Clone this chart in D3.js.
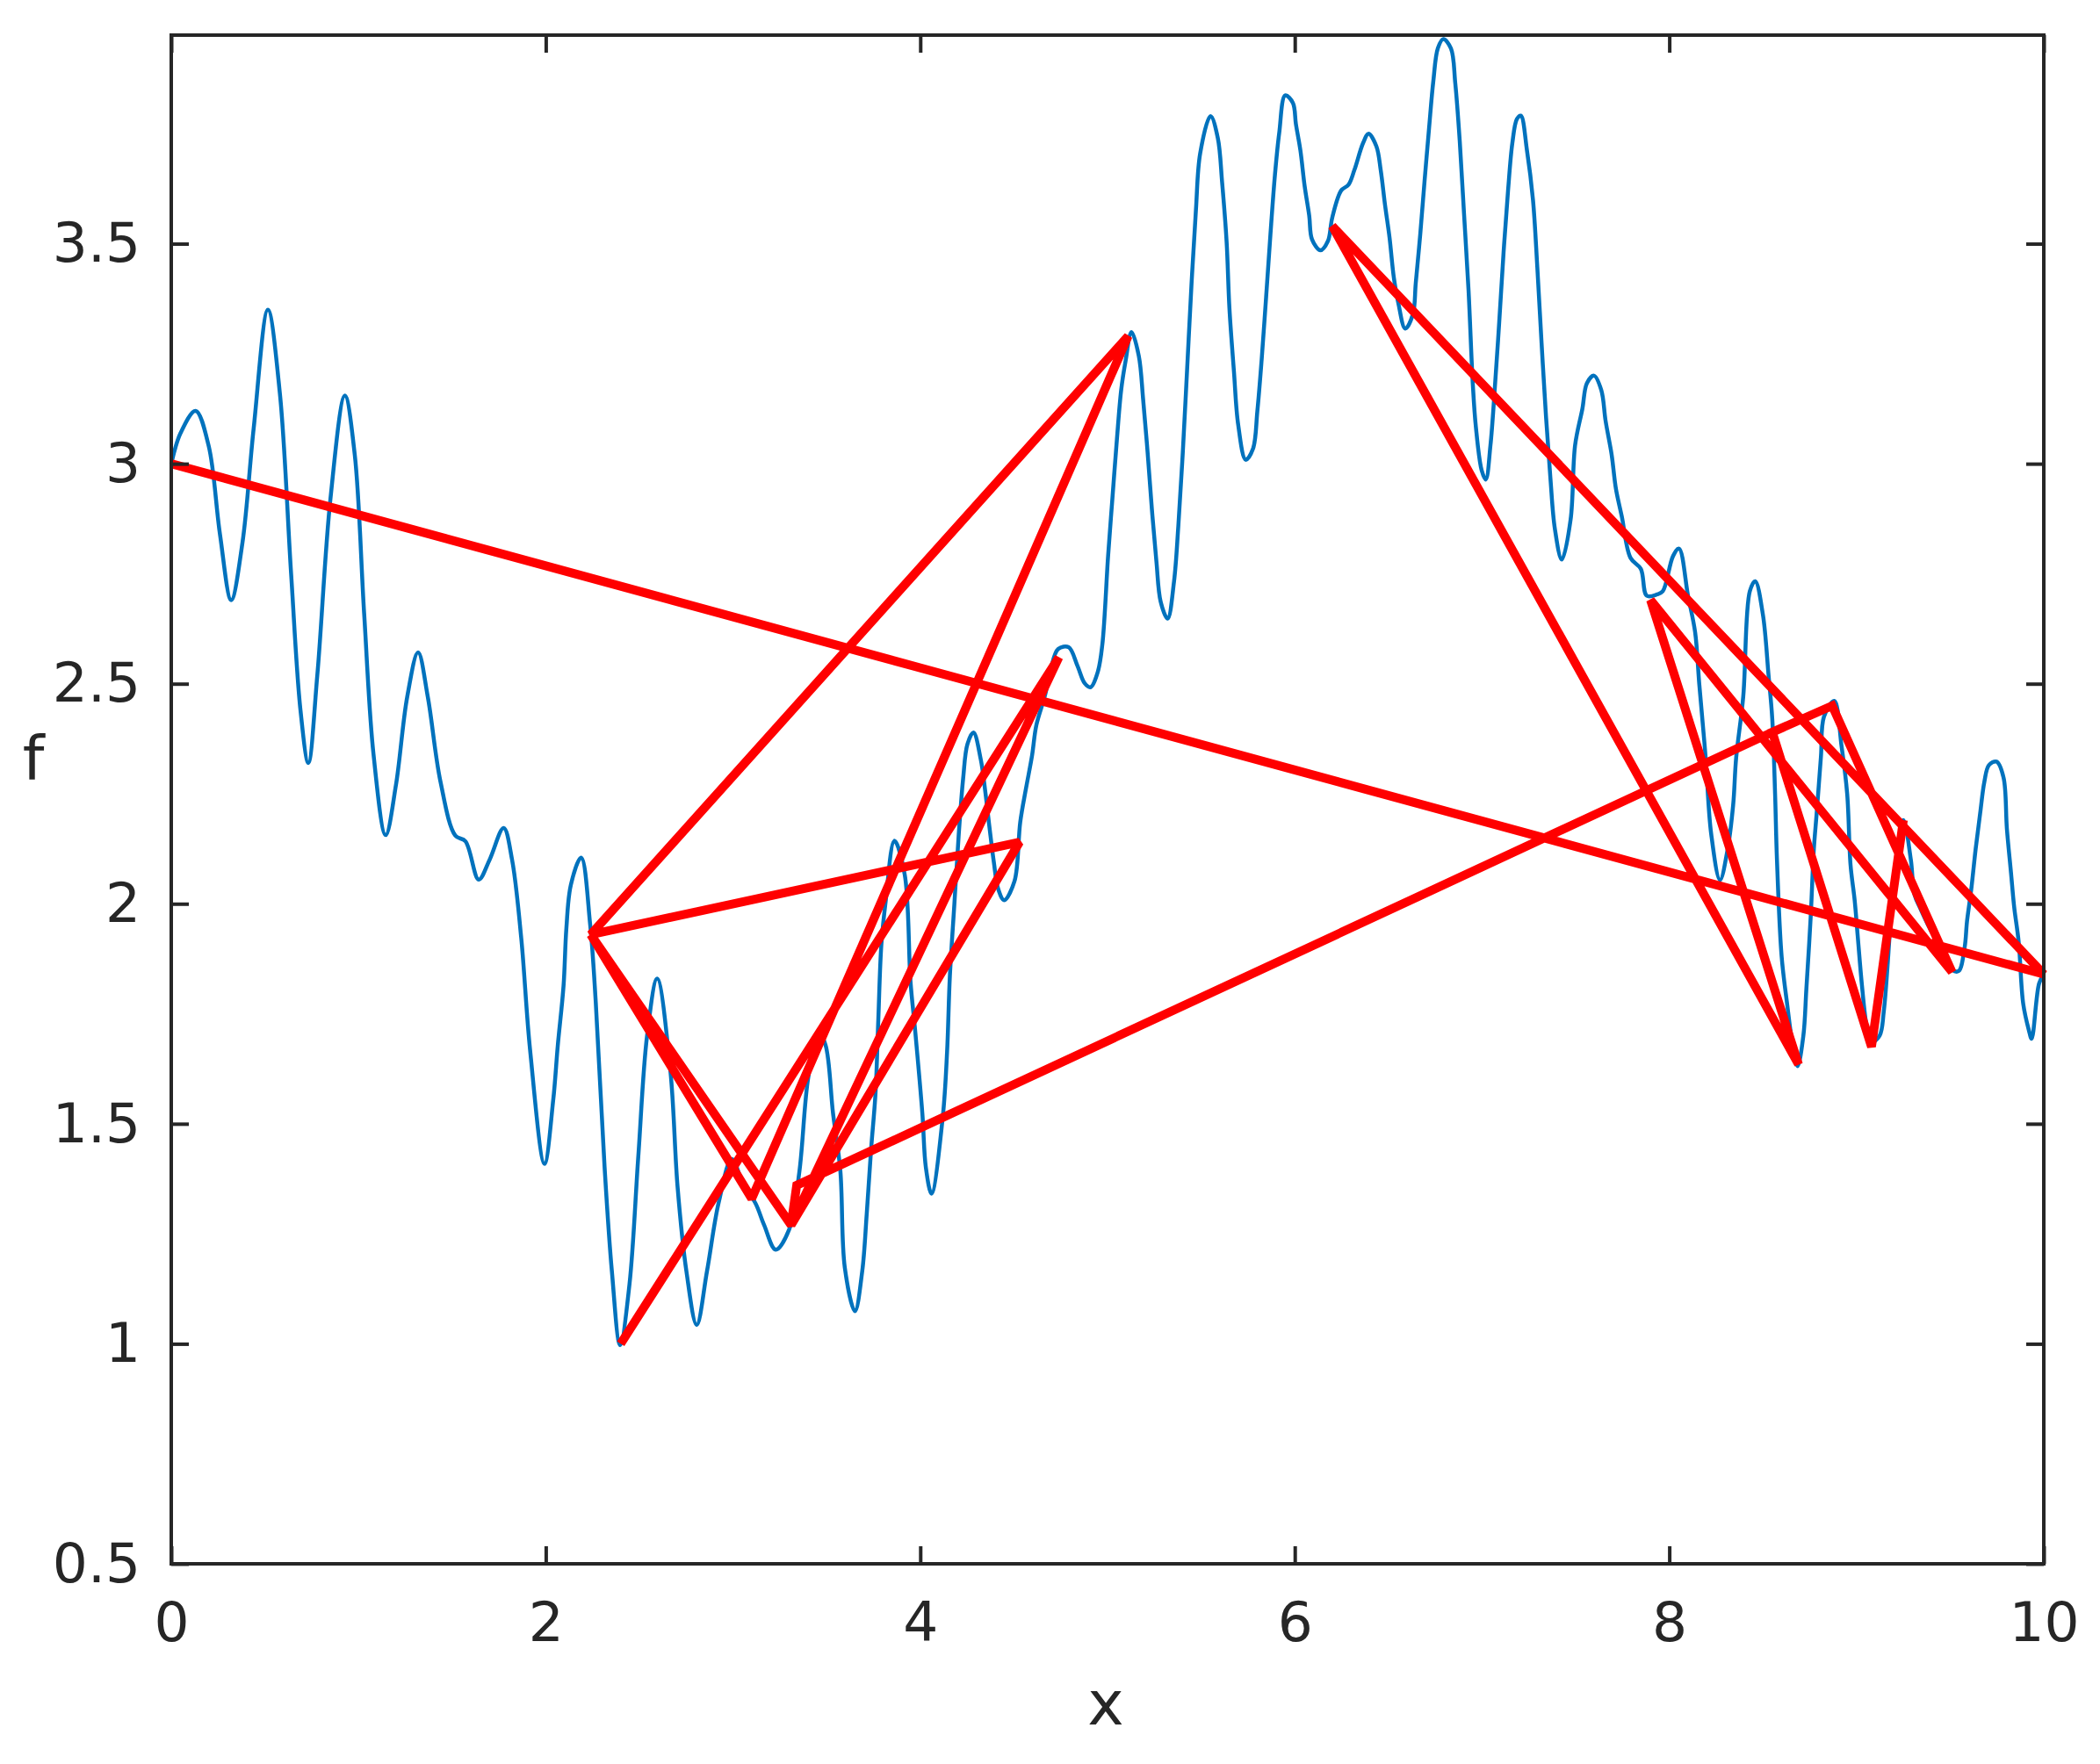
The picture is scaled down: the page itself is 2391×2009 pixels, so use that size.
<!DOCTYPE html>
<meta charset="utf-8">
<style>
    body { margin: 0; background: #fff; }
    .axis text { font-family: "DejaVu Sans", sans-serif; font-size: 63px; fill: #262626; }
    .axis line { stroke: #262626; stroke-width: 4; }
    .axis path { display: none; }
    .box { fill: none; stroke: #262626; stroke-width: 4; }
    .label { font-family: "DejaVu Sans", sans-serif; font-size: 70px; fill: #262626; }
</style>
<body>
<svg width="2391" height="2009"></svg>
</body>
<script src="https://d3js.org/d3.v7.min.js"></script>
<script>

    // blue curve f(x)
    var curveX = [0, 0.05, 0.13, 0.2, 0.26, 0.32, 0.38, 0.44, 0.516, 0.58, 0.64, 0.69, 0.732, 0.78, 0.85, 0.927, 0.98, 1.03, 1.08, 1.145,
        1.2, 1.26, 1.318, 1.37, 1.437, 1.517, 1.571, 1.642, 1.7, 1.775, 1.82, 1.869, 1.916, 1.993, 2.04, 2.064, 2.095, 2.11, 2.134, 2.189,
        2.237, 2.267, 2.314, 2.353, 2.397, 2.447, 2.494, 2.541, 2.595, 2.665, 2.704, 2.751, 2.806, 2.861, 2.924, 2.994, 3.056, 3.119, 3.166, 3.228,
        3.3, 3.354, 3.4, 3.455, 3.494, 3.534, 3.573, 3.597, 3.651, 3.69, 3.714, 3.737, 3.761, 3.776, 3.792, 3.815, 3.862, 3.917, 3.948, 3.972,
        4.011, 4.03, 4.06, 4.12, 4.143, 4.158, 4.182, 4.205, 4.229, 4.252, 4.284, 4.323, 4.346, 4.37, 4.393, 4.416, 4.448, 4.503, 4.534, 4.565,
        4.597, 4.62, 4.667, 4.698, 4.737, 4.792, 4.84, 4.878, 4.909, 4.948, 4.972, 5.003, 5.026, 5.05, 5.073, 5.097, 5.128, 5.167, 5.19, 5.214,
        5.237, 5.261, 5.284, 5.321, 5.355, 5.378, 5.402, 5.425, 5.448, 5.472, 5.495, 5.55, 5.589, 5.612, 5.636, 5.651, 5.675, 5.698, 5.738, 5.777,
        5.8, 5.823, 5.847, 5.87, 5.894, 5.917, 5.949, 5.99, 6.006, 6.03, 6.053, 6.077, 6.092, 6.137, 6.177, 6.2, 6.248, 6.287, 6.318, 6.365,
        6.394, 6.436, 6.459, 6.482, 6.506, 6.529, 6.553, 6.59, 6.631, 6.646, 6.67, 6.693, 6.717, 6.74, 6.764, 6.793, 6.834, 6.857, 6.881, 6.904,
        6.928, 6.951, 6.967, 6.998, 7.02, 7.045, 7.068, 7.092, 7.115, 7.139, 7.162, 7.186, 7.207, 7.24, 7.272, 7.295, 7.318, 7.342, 7.365, 7.389,
        7.426, 7.473, 7.497, 7.536, 7.56, 7.598, 7.637, 7.66, 7.692, 7.715, 7.746, 7.793, 7.848, 7.88, 7.935, 7.965, 8.02, 8.052, 8.1, 8.138,
        8.16, 8.193, 8.224, 8.271, 8.31, 8.341, 8.357, 8.395, 8.43, 8.459, 8.5, 8.53, 8.55, 8.565, 8.575, 8.6, 8.63, 8.655, 8.685,
        8.716, 8.732, 8.755, 8.772, 8.787, 8.81, 8.826, 8.881, 8.92, 8.95, 8.968, 8.99, 9.006, 9.029, 9.053, 9.076, 9.123, 9.146, 9.2, 9.25,
        9.29, 9.31, 9.34, 9.39, 9.45, 9.51, 9.545, 9.577, 9.59, 9.613, 9.636, 9.66, 9.683, 9.707, 9.748, 9.785, 9.803, 9.825, 9.842, 9.866,
        9.89, 9.92, 9.935, 9.975, 10];
    var curveF = [3.0, 3.07, 3.12, 3.04, 2.84, 2.69, 2.82, 3.08, 3.35, 3.16, 2.75, 2.44, 2.32, 2.52, 2.92, 3.155, 3.02, 2.66, 2.34, 2.156,
        2.27, 2.47, 2.571, 2.47, 2.279, 2.155, 2.142, 2.055, 2.1, 2.172, 2.1, 1.922, 1.669, 1.409, 1.555, 1.677, 1.814, 1.944, 2.043, 2.105,
        1.953, 1.776, 1.402, 1.165, 0.997, 1.135, 1.425, 1.7, 1.83, 1.623, 1.356, 1.165, 1.043, 1.165, 1.322, 1.42, 1.36, 1.32, 1.27, 1.214,
        1.26, 1.39, 1.6, 1.71, 1.679, 1.524, 1.394, 1.173, 1.074, 1.165, 1.295, 1.44, 1.57, 1.738, 1.906, 2.005, 2.143, 2.066, 1.822, 1.715,
        1.524, 1.4, 1.341, 1.515, 1.662, 1.835, 1.999, 2.155, 2.285, 2.363, 2.389, 2.328, 2.259, 2.172, 2.094, 2.034, 2.008, 2.051, 2.186, 2.263,
        2.337, 2.406, 2.475, 2.536, 2.579, 2.583, 2.54, 2.501, 2.492, 2.527, 2.588, 2.79, 2.921, 3.055, 3.168, 3.235, 3.299, 3.245, 3.147, 3.026,
        2.896, 2.778, 2.686, 2.648, 2.732, 2.858, 3.026, 3.214, 3.404, 3.576, 3.706, 3.79, 3.74, 3.639, 3.504, 3.353, 3.21, 3.088, 3.009, 3.034,
        3.119, 3.236, 3.379, 3.521, 3.656, 3.752, 3.837, 3.82, 3.772, 3.712, 3.63, 3.564, 3.51, 3.485, 3.506, 3.559, 3.621, 3.634, 3.667, 3.729,
        3.75, 3.721, 3.667, 3.588, 3.514, 3.423, 3.365, 3.307, 3.34, 3.41, 3.521, 3.642, 3.762, 3.87, 3.944, 3.965, 3.944, 3.865, 3.733, 3.567,
        3.394, 3.179, 3.084, 2.985, 2.964, 3.042, 3.17, 3.323, 3.48, 3.621, 3.729, 3.783, 3.791, 3.712, 3.6, 3.448, 3.274, 3.105, 2.968, 2.852,
        2.782, 2.873, 3.042, 3.125, 3.183, 3.2, 3.167, 3.097, 3.021, 2.943, 2.881, 2.786, 2.761, 2.7, 2.703, 2.71, 2.79, 2.807, 2.7, 2.617,
        2.5, 2.338, 2.158, 2.054, 2.12, 2.224, 2.331, 2.471, 2.71, 2.733, 2.657, 2.52, 2.42, 2.25, 2.1, 1.88, 1.77, 1.69, 1.631,
        1.7, 1.806, 1.969, 2.124, 2.205, 2.335, 2.425, 2.461, 2.358, 2.25, 2.088, 2.008, 1.928, 1.814, 1.724, 1.684, 1.7, 1.757, 2.05, 2.19,
        2.1, 2.02, 1.99, 1.945, 1.9, 1.85, 1.847, 1.9, 1.96, 2.034, 2.124, 2.205, 2.278, 2.315, 2.323, 2.287, 2.17, 2.07, 1.992, 1.913,
        1.773, 1.713, 1.693, 1.819, 1.84];

    // red search path, in visiting order
    var pathX = [0, 10, 6.2, 8.69, 7.9, 9.51, 8.87, 8.55, 9.08, 9.25, 9.08, 8.55, 3.34, 3.31, 4.53, 2.24, 5.11, 3.1, 2.24, 3.31, 4.74, 2.4];
    var pathF = [3.0, 1.84, 3.54, 1.635, 2.69, 1.845, 2.45, 2.39, 1.675, 2.19, 1.675, 2.39, 1.36, 1.27, 2.14, 1.93, 3.29, 1.33, 1.93, 1.27, 2.56, 1.0];

    var xTicks = [0, 2, 4, 6, 8, 10];
    var yTicks = [0.5, 1, 1.5, 2, 2.5, 3, 3.5];

    var svg = d3.select("svg");
    var plotL = 195, plotR = 2327, plotT = 40, plotB = 1781;

    var x = d3.scaleLinear().domain([0, 10]).range([plotL, plotR]);
    var y = d3.scaleLinear().domain([0.5, 3.974]).range([plotB, plotT]);

    svg.append("rect").attr("width", 2391).attr("height", 2009).attr("fill", "#fff");

    var curve = curveX.map(function (d, i) { return [d, curveF[i]]; });
    var path = pathX.map(function (d, i) { return [d, pathF[i]]; });

    svg.append("path")
        .datum(curve)
        .attr("fill", "none")
        .attr("stroke", "#0072bd")
        .attr("stroke-width", 4.5)
        .attr("d", d3.line()
            .x(function (d) { return x(d[0]); })
            .y(function (d) { return y(d[1]); })
            .curve(d3.curveCatmullRom.alpha(0.5)));

    svg.append("path")
        .datum(path)
        .attr("fill", "none")
        .attr("stroke", "#ff0000")
        .attr("stroke-width", 10)
        .attr("stroke-miterlimit", 2)
        .attr("d", d3.line()
            .x(function (d) { return x(d[0]); })
            .y(function (d) { return y(d[1]); }));

    var fmt = function (d) { return String(d); };

    svg.append("g").attr("class", "axis")
        .attr("transform", "translate(0," + plotB + ")")
        .call(d3.axisBottom(x).tickValues(xTicks).tickFormat(fmt).tickSizeInner(-20).tickSizeOuter(0).tickPadding(43));
    svg.append("g").attr("class", "axis")
        .attr("transform", "translate(" + plotL + ",0)")
        .call(d3.axisLeft(y).tickValues(yTicks).tickFormat(fmt).tickSizeInner(-20).tickSizeOuter(0).tickPadding(35));
    svg.append("g").attr("class", "axis")
        .attr("transform", "translate(0," + plotT + ")")
        .call(d3.axisTop(x).tickValues(xTicks).tickFormat("").tickSizeInner(-20).tickSizeOuter(0));
    svg.append("g").attr("class", "axis")
        .attr("transform", "translate(" + plotR + ",0)")
        .call(d3.axisRight(y).tickValues(yTicks).tickFormat("").tickSizeInner(-20).tickSizeOuter(0));

    svg.append("rect").attr("class", "box")
        .attr("x", plotL).attr("y", plotT)
        .attr("width", plotR - plotL).attr("height", plotB - plotT);

    svg.append("text").attr("class", "label")
        .attr("x", 1259).attr("y", 1964)
        .attr("text-anchor", "middle")
        .text("x");

    svg.append("text").attr("class", "label")
        .attr("x", 38).attr("y", 888)
        .attr("text-anchor", "middle")
        .text("f");

</script>
